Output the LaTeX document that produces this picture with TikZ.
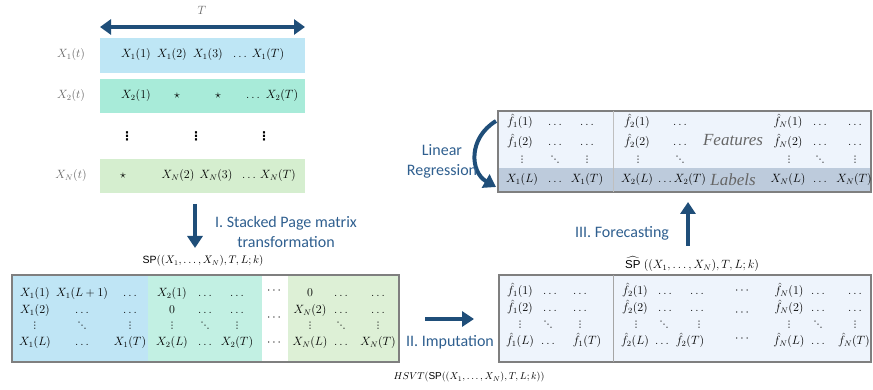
\documentclass[tikz,border=0pt]{standalone}
\usepackage{amsmath}
\usepackage{fontspec}
\setmainfont{Liberation Serif}
\setsansfont{Liberation Sans}
\newfontfamily\calib{Carlito}
\newfontfamily\dotfont{DejaVu Sans}
\usetikzlibrary{arrows.meta}

\definecolor{arrowblue}{HTML}{1F4E79}
\definecolor{stepblue}{HTML}{2F5F8F}
\definecolor{rowone}{HTML}{BEE6F5}
\definecolor{rowtwo}{HTML}{A8EBD9}
\definecolor{rowlast}{HTML}{D5EECF}
\definecolor{pageone}{HTML}{BFE5F5}
\definecolor{pagetwo}{HTML}{C2F0E3}
\definecolor{pagelast}{HTML}{DDF0D6}
\definecolor{hatfill}{HTML}{EEF4FC}
\definecolor{labelfill}{HTML}{BDCBDC}
\definecolor{framegray}{HTML}{7F7F7F}
\definecolor{namegray}{HTML}{666666}

% single-glyph dots for the matrix middle rows
\newcommand{\vd}{⋮}
\newcommand{\dd}{⋱}

\begin{document}
\begin{tikzpicture}[x=1pt,y=-1pt,
    bigarrow/.style={arrowblue, line width=4pt, -{Triangle[length=12pt,width=15pt]}},
    steplabel/.style={stepblue, font=\calib\fontsize{16}{20}\selectfont, align=center, inner sep=0pt},
    entry/.style={inner sep=0pt, text height=8pt, text depth=3pt, font=\fontsize{11.5}{13}\selectfont},
    dotentry/.style={inner sep=0pt, font=\dotfont\fontsize{9}{10}\selectfont},
    cell/.style={anchor=north west, inner sep=0pt, outer sep=0pt, draw=none, fill=#1},
    frame/.style={framegray, line width=1.5pt},
    caption/.style={inner sep=0pt, font=\fontsize{10.5}{12}\selectfont},
    tagword/.style={inner sep=0pt, namegray, font=\itshape\fontsize{17}{19}\selectfont}]
    \useasboundingbox (0,0) rectangle (873,390);

    % time series rows
    \coordinate (tleft) at (100,27);
    \coordinate (tright) at (305,27);
    \draw [arrowblue, line width=4pt, {Triangle[length=11pt,width=15pt]}-{Triangle[length=11pt,width=15pt]}] (tleft) -- (tright);
    \node [caption, namegray, font=\fontsize{12}{14}\selectfont] (tlen) at (202,10) {$T$};
    \node [cell=rowone, minimum width=205pt, minimum height=35pt] (row1) at (100,38) {};
    \node [cell=rowtwo, minimum width=205pt, minimum height=34pt] (row2) at (100,79) {};
    \node [cell=rowlast, minimum width=205pt, minimum height=34pt] (rowN) at (100,159) {};
    \node [entry, namegray] (name1) at (71,55) {$X_1(t)$};
    \node [entry, namegray] (name2) at (71,96) {$X_2(t)$};
    \node [entry, namegray] (nameN) at (71,176) {$X_N(t)$};
    \foreach \x/\t [count=\i] in {136/X_1(1), 172/X_1(2), 208/X_1(3), 240/\ldots, 268/X_1(T)}
        \node [entry] (r1e\i) at (\x,55) {$\t$};
    \foreach \x/\t [count=\i] in {136/X_2(1), 177/\star, 218/\star, 253/\ldots, 282/X_2(T)}
        \node [entry] (r2e\i) at (\x,96) {$\t$};
    \foreach \x [count=\i] in {127,196,264}
        \node [inner sep=0pt, font=\dotfont\bfseries\fontsize{12}{12}\selectfont] (vd\i) at (\x,136) {\vd};
    \foreach \x/\t [count=\i] in {123/\star, 178/X_N(2), 216/X_N(3), 249/\ldots, 278/X_N(T)}
        \node [entry] (rNe\i) at (\x,176) {$\t$};

    % stacked page matrix
    \coordinate (stackfrom) at (195,204);
    \coordinate (stackto) at (195,248);
    \draw [bigarrow] (stackfrom) -- (stackto);
    \node [steplabel] (stacklbl) at (286,232) {I. Stacked Page matrix\\transformation};
    \node [caption] (splbl) at (203,261) {$\mbox{\sffamily SP}((X_1,\ldots,X_N),T,L;k)$};
    \node [cell=pageone, minimum width=136pt, minimum height=87pt] (pg1) at (12,275) {};
    \node [cell=pagetwo, minimum width=114pt, minimum height=87pt] (pg2) at (148,275) {};
    \node [cell=white, minimum width=26pt, minimum height=87pt] (pgdots) at (262,275) {};
    \node [cell=pagelast, minimum width=111pt, minimum height=87pt] (pgN) at (288,275) {};
    \draw [frame] (pg1.north west) rectangle (pgN.south east);
    \foreach \x/\t [count=\i] in {35/X_1(1), 82/X_1(L+1), 130/\ldots, 172/X_2(1), 205/\ldots, 237/\ldots, 310/0, 341/\ldots, 378/\ldots}
        \node [entry] (pa\i) at (\x,294) {$\t$};
    \foreach \x/\t [count=\i] in {35/X_1(2), 82/\ldots, 130/\ldots, 172/0, 205/\ldots, 237/\ldots, 310/X_N(2), 341/\ldots, 378/\ldots}
        \node [entry] (pb\i) at (\x,311) {$\t$};
    \foreach \x/\t [count=\i] in {35/\vd, 82/\dd, 130/\vd, 172/\vd, 205/\dd, 237/\vd, 310/\vd, 341/\dd, 378/\vd}
        \node [dotentry] (pc\i) at (\x,326) {\t};
    \foreach \x/\t [count=\i] in {35/X_1(L), 82/\ldots, 130/X_1(T), 172/X_2(L), 205/\ldots, 237/X_2(T), 310/X_N(L), 341/\ldots, 378/X_N(T)}
        \node [entry] (pd\i) at (\x,343) {$\t$};
    \foreach \y [count=\i] in {291,318,343}
        \node [entry] (pcd\i) at (275,\y) {$\cdots$};

    % imputation
    \coordinate (impfrom) at (425,319);
    \coordinate (impto) at (474,319);
    \draw [bigarrow] (impfrom) -- (impto);
    \node [steplabel] (implbl) at (450,342) {II. Imputation};
    \node [caption, font=\fontsize{10}{12}\selectfont] (hsvtlbl) at (469,377) {$HSVT(\mbox{\sffamily SP}((X_1,\ldots,X_N),T,L;k))$};
    \node [cell=hatfill, minimum width=372pt, minimum height=87pt] (fbot) at (499,275) {};
    \draw [frame] (fbot.north west) rectangle (fbot.south east);
    \draw [framegray!70, line width=1pt] (613,275) -- (613,362);
    \foreach \x/\t [count=\i] in {520/\hat f_1(1), 550/\ldots, 580/\ldots, 635/\hat f_2(1), 665/\ldots, 697/\ldots, 789/\hat f_N(1), 818/\ldots, 855/\ldots}
        \node [entry] (ha\i) at (\x,292) {$\t$};
    \foreach \x/\t [count=\i] in {520/\hat f_1(2), 550/\ldots, 580/\ldots, 635/\hat f_2(2), 665/\ldots, 697/\ldots, 789/\hat f_N(2), 818/\ldots, 855/\ldots}
        \node [entry] (hb\i) at (\x,309) {$\t$};
    \foreach \x/\t [count=\i] in {520/\vd, 548/\dd, 580/\vd, 636/\vd, 664/\dd, 699/\vd, 789/\vd, 818/\dd, 855/\vd}
        \node [dotentry] (hc\i) at (\x,325) {\t};
    \foreach \x/\t [count=\i] in {520/\hat f_1(L), 548/\ldots, 587/\hat f_1(T), 635/\hat f_2(L), 662/\ldots, 690/\hat f_2(T), 789/\hat f_N(L), 818/\ldots, 854/\hat f_N(T)}
        \node [entry] (hd\i) at (\x,342) {$\t$};
    \foreach \y [count=\i] in {291,313,339}
        \node [entry] (hcd\i) at (743,\y) {$\cdots$};
    \node [caption, font=\fontsize{11.5}{13}\selectfont] (sphatlbl) at (692,264) {$\widehat{\mbox{\sffamily SP}}\;((X_1,\ldots,X_N),T,L;k)$};

    % forecasting
    \coordinate (forefrom) at (688,246);
    \coordinate (foreto) at (688,202);
    \draw [bigarrow] (forefrom) -- (foreto);
    \node [steplabel] (forelbl) at (622,233) {III. Forecasting};
    \node [cell=hatfill, minimum width=373pt, minimum height=57pt] (ftop) at (498,111) {};
    \node [cell=labelfill, minimum width=373pt, minimum height=24pt] (flab) at (498,168) {};
    \draw [frame] (ftop.north west) rectangle (flab.south east);
    \draw [framegray!50, line width=1pt] (613,111) -- (613,192);
    \foreach \x/\t [count=\i] in {520/\hat f_1(1), 555/\ldots, 587/\ldots, 637/\hat f_2(1), 680/\ldots, 788/\hat f_N(1), 820/\ldots, 855/\ldots}
        \node [entry] (fa\i) at (\x,123) {$\t$};
    \foreach \x/\t [count=\i] in {520/\hat f_1(2), 555/\ldots, 587/\ldots, 637/\hat f_2(2), 680/\ldots, 788/\hat f_N(2), 820/\ldots, 855/\ldots}
        \node [entry] (fb\i) at (\x,143) {$\t$};
    \foreach \x/\t [count=\i] in {522/\vd, 555/\dd, 587/\vd, 638/\vd, 680/\dd, 789/\vd, 820/\dd, 855/\vd}
        \node [dotentry] (fc\i) at (\x,160) {\t};
    \foreach \x/\t [count=\i] in {522/X_1(L), 555/\ldots, 587/X_1(T), 637/X_2(L), 682/\ldots X_2(T), 788/X_N(L), 820/\ldots, 854/X_N(T)}
        \node [entry] (fd\i) at (\x,180) {$\t$};
    \node [tagword] (featlbl) at (733,140) {Features};
    \node [tagword] (lablbl) at (733,180) {Labels};

    % regression
    \coordinate (regfrom) at (496,121);
    \coordinate (regto) at (496,187);
    \draw [bigarrow] (regfrom) .. controls (468,138) and (470,172) .. (regto);
    \node [steplabel] (reglbl) at (442,161) {Linear\\Regression};
\end{tikzpicture}
\end{document}
